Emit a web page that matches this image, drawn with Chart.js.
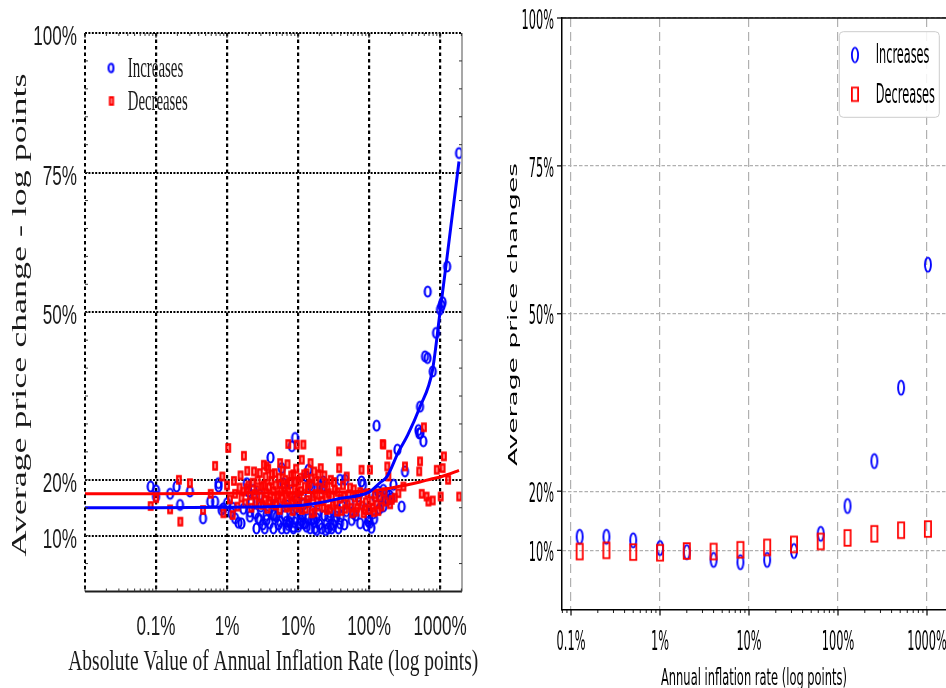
<!DOCTYPE html>
<html>
<head>
<meta charset="utf-8">
<script src="https://cdn.jsdelivr.net/npm/chart.js@4.4.0/dist/chart.umd.min.js"></script>
<style>
  html, body { margin: 0; padding: 0; background: #fff; overflow: hidden; width: 946px; height: 688px; }
  #left { position: absolute; left: 0; top: 0; }
  #right { position: absolute; left: 480px; top: 0; }
</style>
</head>
<body>
<canvas id="left" width="480" height="688"></canvas>
<canvas id="right" width="470" height="688"></canvas>
<script>
// tick values shared by both panels
const xTicks = [0.1, 1, 10, 100, 1000];
const yTicks = [10, 20, 50, 75, 100];

// left panel: one point per country-period (inflation %, avg price change %)
const incX = [0.084, 0.1, 0.1, 0.158, 0.195, 0.218, 0.30, 0.46, 0.58, 0.68, 0.76, 0.76, 0.84, 0.89, 1.0, 1.16, 1.3, 1.45, 1.6, 1.9,
  2.0, 2.1, 2.1, 2.35, 2.6, 2.76, 2.9, 2.9, 3.4, 3.6, 3.6, 4.1, 4.5, 4.5, 4.7, 5.0, 5.6, 5.9, 5.9, 6.2,
  6.9, 6.9, 7.3, 7.5, 7.7, 7.7, 8.2, 8.6, 8.6, 8.7, 9.1, 9.6, 10.7, 10.7, 11.0, 11.9, 12.6, 13.2, 13.2, 14.0,
  14.0, 14.8, 14.8, 15.6, 15.6, 16.5, 17.3, 18.3, 18.3, 20.4, 21.6, 22.0, 22.7, 22.7, 25.4, 26.7, 26.7, 29.0, 29.8, 31.4,
  35, 37, 39, 39, 42, 46, 54, 60, 70.6, 78.5, 82, 98, 98, 103, 115, 122, 128, 134, 143, 159,
  159, 177, 187, 209, 221, 251, 288, 321, 497, 510, 523, 530, 582, 615, 667, 671, 789, 879, 1000, 1050,
  1088, 1260, 1853,
  1.2, 1.7, 2.2, 2.5, 3.0, 3.2, 3.8, 4.0, 4.8, 5.3, 5.5, 6.5, 7.0, 8.0, 9.0, 9.3, 10.0, 11.5, 12.0, 13.8,
  16.0, 17.0, 19.0, 20.0, 23.5, 24.5, 28.0, 33.0, 36.0, 40.0, 45.0, 48.0, 57.0, 65.0, 75.0, 88.0, 92.0, 108, 118, 140,
  168, 195];
const incY = [18.8, 18.1, 17.0, 17.5, 18.8, 15.5, 17.9, 13.1, 16.1, 16.1, 18.8, 19.4, 14.6, 14.9, 15.8, 14.0, 13.1, 12.3, 12.2, 19.4,
  17.9, 14.3, 13.4, 18.2, 11.3, 13.1, 12.8, 17.3, 11.3, 13.7, 12.8, 24.0, 13.7, 11.3, 13.7, 13.4, 12.5, 22.1, 11.3, 19.4,
  12.5, 11.3, 11.9, 12.5, 19.4, 12.2, 26.0, 11.6, 11.3, 14.6, 27.5, 16.4, 14.0, 12.2, 12.7, 12.2, 12.2, 11.6, 20.6, 21.8,
  17.0, 19.1, 11.3, 18.8, 12.8, 13.1, 11.3, 13.1, 11.0, 18.8, 11.3, 18.5, 18.8, 19.7, 12.2, 11.3, 13.4, 12.0, 11.3, 11.9,
  13.4, 11.3, 20.0, 12.2, 15.3, 20.0, 15.8, 14.0, 17.0, 19.7, 19.1, 13.1, 12.5, 12.3, 14.0, 17.0, 29.7, 17.9, 17.0, 18.2,
  15.2, 17.6, 16.4, 16.7, 19.1, 25.4, 15.2, 21.5, 28.9, 28.3, 33.1, 28.4, 26.9, 42.1, 41.8, 53.7, 39.4, 46.3, 50.5, 51.2,
  51.8, 58.2, 78.5,
  15.0, 14.8, 16.0, 14.0, 15.2, 12.0, 14.6, 12.2, 15.6, 12.0, 14.8, 13.6, 15.4, 13.2, 12.4, 15.0, 11.6, 13.4, 15.6, 13.0,
  14.4, 12.4, 14.0, 12.0, 13.6, 11.0, 14.2, 12.6, 14.6, 13.4, 12.0, 14.4, 12.8, 13.6, 12.2, 14.8, 11.8, 11.4, 13.0, 14.8,
  16.4, 17.2];
const decX = [0.084, 0.1, 0.158, 0.21, 0.22, 0.30, 0.46, 0.59, 0.68, 0.86, 0.89, 1.0, 1.04, 1.2, 1.3, 1.5, 1.6, 1.73, 1.9, 1.93,
  2.1, 2.3, 2.5, 2.6, 2.9, 3.0, 3.2, 3.3, 3.3, 3.6, 3.6, 3.8, 4.0, 4.2, 4.5, 4.7, 4.9, 5.2, 5.6, 5.6,
  6.0, 6.3, 6.6, 6.9, 7.3, 7.3, 7.8, 8.2, 8.6, 9.0, 9.6, 9.6, 10.1, 10.5, 11.3, 11.3, 11.9, 12.5, 13.2, 13.5,
  14.5, 15.0, 15.6, 16.9, 17.5, 19.0, 20.0, 20.9, 22.0, 24.0, 25.5, 27.0, 29.0, 31.0, 33.0, 35.5, 38, 38, 40, 43,
  46, 48.5, 52, 56, 61, 66, 72, 78.5, 80, 88, 95, 103, 109, 118, 128, 140, 156, 159, 171, 181,
  187, 192, 209, 259, 305, 321, 509, 523, 552, 593, 647, 686, 789, 900, 1020, 1088, 1134, 1300, 1865,
  1.1, 1.25, 1.4, 1.55, 1.7, 1.8, 2.0, 2.2, 2.4, 2.45, 2.7, 2.8, 3.1, 3.4, 3.5, 3.7, 3.9, 4.1, 4.3, 4.4,
  4.8, 5.0, 5.4, 5.5, 5.8, 6.1, 6.4, 6.7, 7.0, 7.1, 7.5, 7.9, 8.0, 8.4, 8.8, 9.2, 9.4, 9.8, 10.3, 10.8,
  11.0, 11.6, 12.2, 12.8, 13.8, 14.2, 15.3, 16.2, 17.0, 18.0, 18.6, 19.5, 21.2, 23.0, 23.5, 25.0, 26.0, 28.0, 30.0, 32.0,
  34.0, 36.0, 41.0, 44.0, 50.0, 54.0, 58.0, 63.0, 68.0, 75.0, 84.0, 90.0, 100, 112, 122, 135, 150, 165, 198, 230];
const decY = [15.3, 16.7, 14.7, 20.0, 12.5, 19.4, 14.6, 17.5, 22.5, 20.6, 14.0, 19.0, 25.7, 13.7, 17.5, 18.6, 16.8, 24.3, 18.5, 21.6,
  17.2, 19.5, 16.0, 18.2, 21.2, 17.0, 15.5, 22.7, 19.0, 22.4, 17.6, 22.0, 16.2, 19.8, 18.0, 21.2, 15.4, 17.3, 23.0, 19.2,
  16.6, 18.6, 20.0, 15.0, 26.4, 17.8, 19.6, 16.2, 21.0, 18.4, 26.3, 15.6, 19.8, 17.2, 23.6, 14.6, 26.3, 18.8, 21.2, 16.4,
  19.3, 23.0, 14.0, 21.5, 17.5, 15.2, 18.6, 22.1, 16.2, 19.4, 14.6, 17.6, 20.0, 15.4, 18.2, 14.3, 25.1, 22.1, 16.6, 19.0,
  14.8, 20.6, 17.4, 15.0, 18.3, 14.3, 16.2, 21.8, 15.4, 14.6, 17.6, 21.8, 16.2, 14.2, 15.6, 17.0, 26.4, 26.3, 16.1, 22.4,
  20.6, 24.5, 16.4, 17.6, 18.8, 22.4, 21.5, 23.3, 17.5, 29.4, 17.0, 16.1, 16.3, 21.8, 17.0, 22.1, 24.2, 20.0, 17.0,
  16.5, 19.8, 15.2, 20.8, 17.9, 15.8, 19.0, 15.0, 21.5, 17.5, 19.9, 15.6, 18.8, 16.4, 20.5, 14.8, 18.7, 17.0, 21.0, 15.6,
  19.0, 16.8, 20.4, 14.6, 18.0, 21.6, 15.8, 17.4, 19.2, 22.8, 15.2, 17.0, 20.8, 14.4, 16.8, 19.6, 22.0, 17.8, 15.0, 20.4,
  18.0, 16.0, 21.0, 14.8, 18.4, 15.8, 20.2, 17.0, 14.2, 19.8, 16.0, 21.0, 17.4, 15.0, 20.8, 16.8, 18.8, 14.8, 17.0, 19.6,
  15.8, 17.8, 14.4, 17.0, 15.6, 18.6, 14.0, 16.8, 15.0, 17.8, 14.0, 16.0, 14.6, 15.0, 17.4, 14.4, 15.2, 17.8, 15.6, 16.8];

// fitted curves
const fitX = [0.01, 0.1, 1, 10, 20, 40, 100, 143, 180, 260, 350, 520, 780, 1000, 1260, 1850];
const fitInc = [15.0, 15.0, 15.1, 15.4, 15.9, 16.7, 17.8, 19.5, 20.6, 25.0, 28.0, 33.0, 39.5, 50.0, 60.0, 77.0];
const fitDec = [17.5, 17.5, 17.6, 17.7, 17.75, 17.8, 18.0, 18.2, 18.4, 18.8, 19.1, 19.6, 20.2, 20.5, 20.9, 21.7];

// right panel: binned averages
const binX = [0.125, 0.25, 0.5, 1, 2, 4, 8, 16, 32, 64, 128, 256, 512, 1024];
const binInc = [12.3, 12.3, 11.7, 10.4, 9.7, 8.4, 8.0, 8.4, 9.9, 12.8, 17.5, 25.1, 37.5, 58.3];
const binDec = [9.8, 10.0, 9.7, 9.6, 9.9, 9.8, 10.1, 10.5, 11.0, 11.5, 12.1, 12.8, 13.4, 13.6];

const BLUE = '#0000ff', RED = '#ff0000';

function pts(xs, ys) { return xs.map((x, i) => ({x: x, y: ys[i]})); }

// hollow markers drawn as small canvases (the originals are taller than wide)
function ring(rx, ry, lw, color) {
  const c = document.createElement('canvas');
  c.width = Math.ceil(2 * rx + lw) + 2;
  c.height = Math.ceil(2 * ry + lw) + 2;
  const g = c.getContext('2d');
  g.strokeStyle = color; g.lineWidth = lw;
  g.beginPath(); g.ellipse(c.width / 2, c.height / 2, rx, ry, 0, 0, 2 * Math.PI); g.stroke();
  return c;
}
function box(w, h, lw, color) {
  const c = document.createElement('canvas');
  c.width = Math.ceil(w + lw) + 2;
  c.height = Math.ceil(h + lw) + 2;
  const g = c.getContext('2d');
  g.strokeStyle = color; g.lineWidth = lw;
  g.strokeRect((c.width - w) / 2, (c.height - h) / 2, w, h);
  return c;
}

// text helper: o.width squeezes the string to a given length, o.sx/o.sy scale directly
function txt(ctx, s, x, y, o) {
  ctx.save();
  ctx.font = o.font;
  ctx.fillStyle = o.color || '#000';
  ctx.textAlign = o.align || 'center';
  ctx.textBaseline = o.base || 'alphabetic';
  let sx = o.sx || 1;
  if (o.width) sx = o.width / ctx.measureText(s).width;
  ctx.translate(x, y);
  if (o.rot) ctx.rotate(o.rot);
  ctx.scale(sx, o.sy || 1);
  ctx.fillText(s, 0, 0);
  ctx.restore();
}
function seg(ctx, x1, y1, x2, y2) {
  ctx.beginPath(); ctx.moveTo(x1, y1); ctx.lineTo(x2, y2); ctx.stroke();
}
function logMinor(min, max) {
  const out = [];
  for (let k = -3; k <= 4; k++) {
    for (let m = 1; m <= 9; m++) {
      const v = m * Math.pow(10, k);
      if (v >= min && v <= max) out.push({v: v, major: m === 1});
    }
  }
  return out;
}

// ---------------- left panel ----------------
const leftDeco = {
  id: 'leftDeco',
  afterDraw(chart) {
    const {ctx, chartArea: a, scales: {x, y}} = chart;
    ctx.save();
    ctx.strokeStyle = '#000'; ctx.lineWidth = 2; ctx.setLineDash([3.5, 3]);
    seg(ctx, a.left, a.top, a.left, a.bottom);
    ctx.setLineDash([]);
    ctx.strokeStyle = '#1e1e1e'; ctx.lineWidth = 2;
    seg(ctx, a.left, a.bottom, a.right, a.bottom);
    ctx.strokeStyle = '#8a8a8a'; ctx.lineWidth = 1.5;
    seg(ctx, a.right, a.top, a.right, a.bottom);
    // small inward ticks
    ctx.strokeStyle = '#333'; ctx.lineWidth = 1;
    logMinor(x.min, x.max).forEach(t => {
      const px = x.getPixelForValue(t.v);
      const len = t.major ? 5 : 3;
      seg(ctx, px, a.bottom, px, a.bottom - len);
      seg(ctx, px, a.top, px, a.top + len);
    });
    for (let v = 5; v < 100; v += 5) {
      const py = y.getPixelForValue(v);
      seg(ctx, a.left, py, a.left + 3, py);
      seg(ctx, a.right, py, a.right - 3, py);
    }
    // tick labels
    const tf = '28px "Liberation Sans"';
    y.ticks.forEach(t => txt(ctx, t.label, a.left - 8, y.getPixelForValue(t.value) + 12,
      {font: tf, sx: 0.61, align: 'right', color: '#1a1a1a'}));
    x.ticks.forEach(t => txt(ctx, t.label, x.getPixelForValue(t.value), 634.5,
      {font: tf, sx: 0.61, color: '#1a1a1a'}));
    // axis titles
    txt(ctx, 'Absolute Value of Annual Inflation Rate (log points)', 273.3, 670,
      {font: '30px "Liberation Serif"', width: 410, color: '#1a1a1a'});
    txt(ctx, 'Average price change - log points', 25.5, 315,
      {font: '36px "Liberation Serif"', width: 483, sy: 0.6, rot: -Math.PI / 2, color: '#1a1a1a'});
    // legend
    const lc = ring(2.4, 4.2, 2.1, BLUE), ls = box(3, 7.3, 2.2, RED);
    ctx.drawImage(lc, 111 - lc.width / 2, 68 - lc.height / 2);
    ctx.drawImage(ls, 111.5 - ls.width / 2, 101 - ls.height / 2);
    txt(ctx, 'Increases', 127.7, 76.5, {font: '29px "Liberation Serif"', width: 55.6, align: 'left', color: '#1a1a1a'});
    txt(ctx, 'Decreases', 127.7, 109.5, {font: '29px "Liberation Serif"', width: 60, align: 'left', color: '#1a1a1a'});
    ctx.restore();
  }
};

new Chart(document.getElementById('left'), {
  type: 'scatter',
  data: {
    datasets: [
      {label: 'Increases fit', data: pts(fitX, fitInc), showLine: true, borderColor: BLUE, borderWidth: 3,
        pointRadius: 0, cubicInterpolationMode: 'monotone'},
      {label: 'Decreases fit', data: pts(fitX, fitDec), showLine: true, borderColor: RED, borderWidth: 3,
        pointRadius: 0, cubicInterpolationMode: 'monotone'},
      {label: 'Decreases', data: pts(decX, decY), pointStyle: box(3.4, 7.2, 2.4, RED), pointRadius: 4},
      {label: 'Increases', data: pts(incX, incY), pointStyle: ring(3, 5, 2.2, BLUE), pointRadius: 4}
    ]
  },
  options: {
    responsive: false,
    animation: false,
    devicePixelRatio: 1,
    events: [],
    layout: {autoPadding: false, padding: {top: 33, right: 18, left: 0, bottom: 0}},
    plugins: {legend: {display: false}, tooltip: {enabled: false}},
    scales: {
      x: {
        type: 'logarithmic', min: 0.01, max: 2040, z: 1,
        afterBuildTicks: s => { s.ticks = xTicks.map(v => ({value: v})); },
        afterFit: s => { s.height = 96.5; },
        ticks: {display: false, callback: v => v + '%'},
        grid: {color: '#000', lineWidth: 2.2, drawTicks: false},
        border: {display: false, dash: [3.5, 3]}
      },
      y: {
        min: 0, max: 100, z: 1,
        afterBuildTicks: s => { s.ticks = yTicks.map(v => ({value: v})); },
        afterFit: s => { s.width = 85; },
        ticks: {display: false, callback: v => v + '%'},
        grid: {color: '#000', lineWidth: 2, drawTicks: false},
        border: {display: false, dash: [2, 1.4]}
      }
    }
  },
  plugins: [leftDeco]
});

// ---------------- right panel ----------------
const rightDeco = {
  id: 'rightDeco',
  afterDraw(chart) {
    const {ctx, chartArea: a, scales: {x, y}} = chart;
    ctx.save();
    ctx.strokeStyle = '#000'; ctx.lineWidth = 1.5;
    seg(ctx, a.left, a.top, a.right, a.top);
    logMinor(x.min, x.max).forEach(t => {
      const px = x.getPixelForValue(t.v);
      ctx.lineWidth = t.major ? 1.2 : 0.9;
      seg(ctx, px, a.bottom, px, a.bottom + (t.major ? 6 : 3.5));
    });
    ctx.lineWidth = 1.2;
    y.ticks.forEach(t => {
      const py = y.getPixelForValue(t.value);
      seg(ctx, a.left, py, a.left - 5, py);
    });
    const tf = '27px "DejaVu Sans"';
    y.ticks.forEach(t => txt(ctx, t.label, a.left - 8, y.getPixelForValue(t.value) + 10.7,
      {font: tf, sx: 0.42, align: 'right'}));
    x.ticks.forEach(t => txt(ctx, t.label, x.getPixelForValue(t.value), 650, {font: tf, sx: 0.42}));
    txt(ctx, 'Annual inflation rate (log points)', 274, 685, {font: '23px "DejaVu Sans"', width: 186});
    txt(ctx, 'Average price changes', 36.7, 314.5,
      {font: '26px "DejaVu Sans"', width: 303, sy: 0.5, rot: -Math.PI / 2});
    // legend box
    ctx.fillStyle = 'rgba(255,255,255,0.85)';
    ctx.strokeStyle = '#cccccc'; ctx.lineWidth = 1;
    ctx.beginPath(); ctx.roundRect(359.3, 31.7, 100, 85.6, 4); ctx.fill(); ctx.stroke();
    const lc = ring(3.1, 7.4, 1.8, BLUE), ls = box(6.2, 13.4, 1.8, RED);
    ctx.drawImage(lc, 375 - lc.width / 2, 55 - lc.height / 2);
    ctx.drawImage(ls, 375 - ls.width / 2, 94.3 - ls.height / 2);
    txt(ctx, 'Increases', 395.7, 63, {font: '26px "DejaVu Sans"', width: 53.7, align: 'left'});
    txt(ctx, 'Decreases', 395.7, 103, {font: '26px "DejaVu Sans"', width: 59.3, align: 'left'});
    ctx.restore();
  }
};

new Chart(document.getElementById('right'), {
  type: 'scatter',
  data: {
    datasets: [
      {label: 'Decreases', data: pts(binX, binDec), pointStyle: box(6.2, 15.6, 1.8, RED), pointRadius: 6},
      {label: 'Increases', data: pts(binX, binInc), pointStyle: ring(3.0, 7.1, 1.9, BLUE), pointRadius: 6}
    ]
  },
  options: {
    responsive: false,
    animation: false,
    devicePixelRatio: 1,
    events: [],
    layout: {autoPadding: false, padding: {top: 18, right: 2, left: 0, bottom: 0}},
    plugins: {legend: {display: false}, tooltip: {enabled: false}},
    scales: {
      x: {
        type: 'logarithmic', min: 0.0792, max: 1722,
        afterBuildTicks: s => { s.ticks = xTicks.map(v => ({value: v})); },
        afterFit: s => { s.height = 78.5; },
        ticks: {display: false, callback: v => v + '%'},
        grid: {color: '#b0b0b0', lineWidth: 1.2, drawTicks: false},
        border: {display: true, color: '#000', width: 1.5, dash: [9, 5]}
      },
      y: {
        min: 0, max: 100,
        afterBuildTicks: s => { s.ticks = yTicks.map(v => ({value: v})); },
        afterFit: s => { s.width = 82; },
        ticks: {display: false, callback: v => v + '%'},
        grid: {color: '#b0b0b0', lineWidth: 1.2, drawTicks: false},
        border: {display: true, color: '#000', width: 1.5, dash: [3.5, 2]}
      }
    }
  },
  plugins: [rightDeco]
});
</script>
</body>
</html>
